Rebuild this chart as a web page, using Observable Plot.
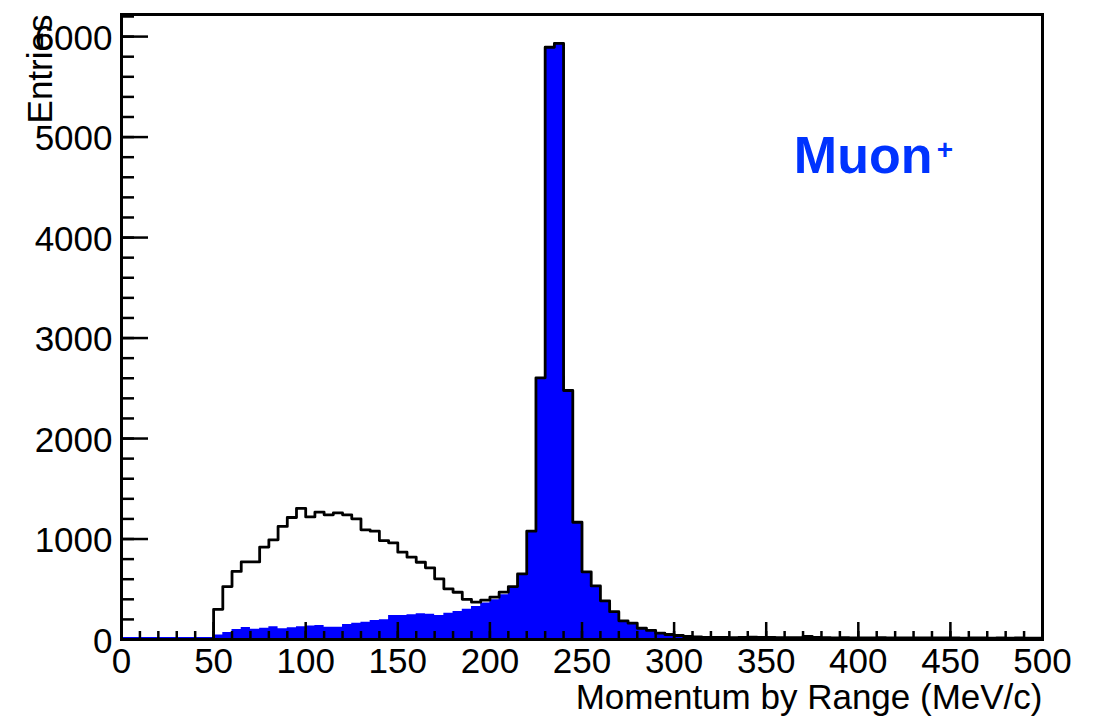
<!DOCTYPE html>
<html>
<head>
<meta charset="utf-8">
<script src="https://cdn.jsdelivr.net/npm/d3@7"></script>
<script src="https://cdn.jsdelivr.net/npm/@observablehq/plot@0.6"></script>
<style>
  html, body { margin: 0; padding: 0; background: #fff; }
  #chart svg { display: block; }
</style>
</head>
<body>
<div id="chart"></div>
<script>
// ---------- data ----------
const binWidth = 5;
const binEdges = d3.range(0, 500, binWidth); // lower bin edges, 100 bins

// Blue filled histogram (Muon+)
const muonCounts = [
  20, 19, 20, 21, 20, 21, 20, 21, 20, 21,          // 0-45
  45, 70, 100, 120, 103, 111, 126, 106, 118, 126,  // 50-95
  135, 139, 123, 123, 149, 162, 172, 189, 196, 239,// 100-145
  239, 246, 256, 252, 240, 262, 279, 300, 328, 363,// 150-195
  395, 445, 527, 653, 1078, 2604, 5894, 5933, 2478, 1167, // 200-245
  674, 533, 385, 277, 186, 162, 112, 90, 63, 50,   // 250-295
  40, 30, 27, 22, 20, 20, 18, 20, 24, 22,          // 300-345
  20, 18, 18, 19, 30, 20, 18, 17, 18, 16,          // 350-395
  17, 16, 18, 15, 16, 17, 15, 16, 15, 16,          // 400-445
  15, 14, 16, 15, 14, 15, 14, 15, 14, 14           // 450-495
];

// Black outlined histogram
const allCounts = [
  0, 0, 0, 0, 0, 0, 0, 0, 0, 0,                    // 0-45
  300, 527, 677, 772, 772, 920, 992, 1125, 1214, 1305, // 50-95
  1220, 1267, 1241, 1260, 1241, 1201, 1091, 1078, 985, 962, // 100-145
  869, 819, 769, 713, 604, 504, 470, 400, 371, 392, // 150-195
  421, 471, 527, 653, 1078, 2604, 5894, 5933, 2478, 1167, // 200-245
  674, 533, 385, 277, 186, 162, 112, 90, 63, 50,   // 250-295
  40, 30, 27, 22, 20, 20, 18, 20, 24, 22,          // 300-345
  20, 18, 18, 19, 30, 20, 18, 17, 18, 16,          // 350-395
  17, 16, 18, 15, 16, 17, 15, 16, 15, 16,          // 400-445
  15, 14, 16, 15, 14, 15, 14, 15, 14, 14           // 450-495
];

const xMajorTicks = [0, 50, 100, 150, 200, 250, 300, 350, 400, 450, 500];
const xMinorTicks = d3.range(0, 501, 10);
const yMajorTicks = [0, 1000, 2000, 3000, 4000, 5000, 6000];
const yMinorTicks = d3.range(0, 6201, 200);

const xTitle = "Momentum by Range (MeV/c)";
const yTitle = "Entries";
const tagText = "Muon";
const tagSup = "+";

// ---------- layout ----------
const W = 1095, H = 718;
const mL = 121, mR = 53, mT = 14, mB = 79;
const innerW = W - mL - mR, innerH = H - mT - mB;
const font = "'Liberation Sans', Arial, Helvetica, sans-serif";
const fs = 35;
const blue = "#0000ff";

function steps(counts) {
  const pts = binEdges.map((x, i) => ({x, y: counts[i]}));
  pts.push({x: binEdges[binEdges.length - 1] + binWidth, y: counts[counts.length - 1]});
  return pts;
}

const chart = Plot.plot({
  width: W,
  height: H,
  marginLeft: mL,
  marginRight: mR,
  marginTop: mT,
  marginBottom: mB,
  style: {fontFamily: font, fontSize: fs + "px", color: "black", background: "white"},
  x: {domain: [0, 500]},
  y: {domain: [0, 6220]},
  marks: [
    Plot.areaY(steps(muonCounts), {x: "x", y: "y", curve: "step-after", fill: blue}),
    Plot.line(steps(allCounts), {x: "x", y: "y", curve: "step-after", stroke: "black", strokeWidth: 2.8}),
    // ticks (inside the frame)
    Plot.tickX(xMinorTicks, {x: d => d, stroke: "black", strokeWidth: 2.5, insetTop: innerH - 8}),
    Plot.tickX(xMajorTicks, {x: d => d, stroke: "black", strokeWidth: 2.5, insetTop: innerH - 17}),
    Plot.tickY(yMinorTicks, {y: d => d, stroke: "black", strokeWidth: 2.5, insetRight: innerW - 13}),
    Plot.tickY(yMajorTicks, {y: d => d, stroke: "black", strokeWidth: 2.5, insetRight: innerW - 27}),
    Plot.frame({stroke: "black", strokeWidth: 3}),
    Plot.axisX({ticks: xMajorTicks, tickSize: 0, tickPadding: 9, label: null, tickFormat: d => String(d), fontSize: fs, fill: "black"}),
    Plot.axisY({ticks: yMajorTicks, tickSize: 0, tickPadding: 9, label: null, tickFormat: d => String(d), fontSize: fs, fill: "black", dy: 2}),
    Plot.text([xTitle], {text: d => d, frameAnchor: "bottom-right", textAnchor: "end", lineAnchor: "bottom", dy: 69, fontSize: fs, fill: "black"}),
    Plot.text([yTitle], {text: d => d, frameAnchor: "top-left", rotate: -90, textAnchor: "end", lineAnchor: "bottom", dx: -70, dy: 0, fontSize: fs, fill: "black"}),
    Plot.text([tagText], {text: d => d, x: [365], y: [4640], textAnchor: "start", lineAnchor: "bottom", fontSize: 52, fontWeight: "bold", fill: "#0033ff"}),
    Plot.text([tagSup], {text: d => d, x: [447], y: [4870], textAnchor: "middle", lineAnchor: "middle", fontSize: 28, fontWeight: "bold", fill: "#0033ff"})
  ]
});

document.getElementById("chart").appendChild(chart);
</script>
</body>
</html>
